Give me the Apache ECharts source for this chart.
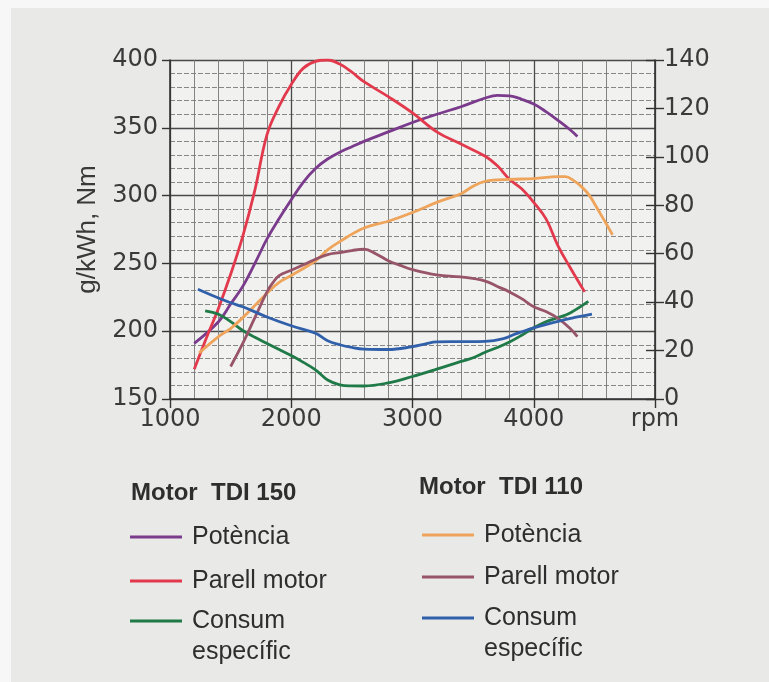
<!DOCTYPE html>
<html><head><meta charset="utf-8">
<script src="https://cdn.jsdelivr.net/npm/echarts@6/dist/echarts.min.js"></script>
<style>
html,body{margin:0;padding:0;background:#f7f7f7;}
#bg{position:absolute;left:11px;top:8px;right:0;bottom:0;background:#e9e9e8;}
#chart{position:absolute;left:0;top:0;width:769px;height:682px;}
</style></head><body>
<div id="bg"></div><div id="chart"></div>
<script>
// ---- data ----
// TDI 150 – Parell motor (Nm, left axis)
const rpm150T = [1200,1300,1400,1500,1600,1700,1800,1900,2000,2100,2200,2300,2400,2500,2600,2800,3000,3200,3400,3600,3700,3800,3900,4000,4100,4200,4300,4420];
const val150T = [172,195,217,242,270,304,345,366,382,394,399,400,397,391,384,373,361,347,338,329,322,312,305,295,283,263,247,229];
// TDI 150 – Potència (kW, right axis)
const rpm150P = [1200,1400,1500,1600,1700,1800,1900,2000,2100,2200,2300,2400,2500,2600,2800,3000,3200,3400,3600,3700,3800,3900,4000,4100,4200,4300,4360];
const val150P = [23,31.9,39.2,46.5,56,66.1,74.5,82.3,89.6,95.2,99.1,101.9,104.2,106.4,110.3,114.2,117.6,120.7,124.3,125.4,125.2,123.8,121.8,118.7,115.1,111.2,108.4];
// TDI 150 – Consum específic (g/kWh, left axis)
const rpm150C = [1290,1400,1500,1600,1700,1800,1900,2000,2100,2200,2300,2400,2500,2600,2800,3000,3200,3400,3500,3600,3700,3800,3900,4000,4100,4200,4300,4450];
const val150C = [215,212.5,207,200.5,195.5,191,186.5,182,177,171.5,164,160.5,159.7,159.6,161.9,166.6,172,177.7,180.4,184.5,188,192,197,202.5,207,210,213.5,222];
// TDI 110 – Potència (kW, right axis)
const rpm110P = [1240,1400,1500,1600,1700,1800,1900,2000,2200,2300,2400,2600,2800,3000,3200,3400,3500,3600,3800,4000,4200,4260,4330,4400,4460,4540,4600,4650];
const val110P = [19,25.8,29.1,33.6,38.6,43.7,48.2,51,57.1,61.6,65,70.6,73.4,77,81.2,84.8,87.9,89.9,90.7,91,91.8,91.8,90.2,87.4,84,77.3,72.2,67.8];
// TDI 110 – Parell motor (Nm, left axis)
const rpm110T = [1500,1600,1700,1800,1850,1900,2000,2100,2200,2300,2400,2500,2600,2700,2800,2900,3000,3200,3400,3600,3700,3800,3900,4000,4100,4200,4300,4360];
const val110T = [174,191,210,229,236,241,245,249,253,256.5,258,259.5,260.5,257,252,248.5,245.4,241.5,240,237,233,229,224,218,214.5,209.5,202,196];
// TDI 110 – Consum específic (g/kWh, left axis)
const rpm110C = [1230,1400,1500,1600,1800,2000,2200,2300,2400,2500,2600,2800,3000,3100,3200,3400,3600,3750,3850,4000,4200,4350,4480];
const val110C = [231,224.5,221,218,210.5,204,198.5,193,190,188,186.8,186.5,188.6,190.5,192.2,192.3,192.5,194.5,198,202.5,207.3,210.3,212.6];

const xTicks = [1000,2000,3000,4000,5000];
const leftTicks = [150,200,250,300,350,400];
const rightTicks = [0,20,40,60,80,100,120,140];

const zip = (a,b) => a.map((x,i)=>[x,b[i]]);

const FONT_AX = 'DejaVu Sans';
const FONT_TX = 'Liberation Sans';
const TXT = '#2e2e2e';

const series = [
  {name:'p150', color:'#7b3b8c', yAxisIndex:1, data: zip(rpm150P,val150P)},
  {name:'t150', color:'#e23a4c', yAxisIndex:0, data: zip(rpm150T,val150T)},
  {name:'c150', color:'#1f7a48', yAxisIndex:0, data: zip(rpm150C,val150C)},
  {name:'p110', color:'#eea45a', yAxisIndex:1, data: zip(rpm110P,val110P)},
  {name:'t110', color:'#985468', yAxisIndex:0, data: zip(rpm110T,val110T)},
  {name:'c110', color:'#3160ab', yAxisIndex:0, data: zip(rpm110C,val110C)}
].map(s => Object.assign({type:'line', smooth:0.4, showSymbol:false, symbol:'none',
    lineStyle:{width:2.8, color:s.color}, itemStyle:{color:s.color}, silent:true, animation:false}, s));

function leg(name, label, left, cy){
  return {
    data:[name], left:left, top: cy-15, padding:0, orient:'vertical',
    icon:'rect', itemWidth:52, itemHeight:3, selectedMode:false,
    formatter: label,
    textStyle:{fontFamily:FONT_TX, fontSize:25, color:TXT, lineHeight:30, padding:[0,0,0,5]}
  };
}
function ttl(text, left, cy, bold){
  return {text:text, left:left, top:cy-14, padding:0,
    textStyle:{fontFamily:FONT_TX, fontSize: bold ? 24 : 25, fontWeight: bold ? 'bold' : 'normal',
      color:TXT, lineHeight:28}};
}

const chart = echarts.init(document.getElementById('chart'), null, {renderer:'canvas'});
chart.setOption({
  animation:false,
  backgroundColor:'transparent',
  title:[
    ttl('Motor  TDI 150',131,493,true),
    ttl('Motor  TDI 110',419,487,true),
    ttl('específic',192,652,false),
    ttl('específic',484,649,false)
  ],
  legend:[
    leg('p150','Potència',130,537),
    leg('t150','Parell motor',130,581),
    leg('c150','Consum',130,621),
    leg('p110','Potència',422,535),
    leg('t110','Parell motor',422,577),
    leg('c110','Consum',422,618)
  ],
  grid:{left:170, right:114, top:60, bottom:283, show:true, backgroundColor:'#f1f1f0', borderWidth:0},
  xAxis:{
    type:'value', min:xTicks[0], max:xTicks[xTicks.length-1], interval:1000,
    axisLine:{show:true, lineStyle:{color:'#333', width:1.6}},
    axisTick:{show:true, length:9, lineStyle:{color:'#333', width:1.4}},
    axisLabel:{fontFamily:FONT_AX, fontSize:24, color:'#3a3a3a', margin:9,
      formatter: v => v === 5000 ? 'rpm' : String(v)},
    splitLine:{show:true, lineStyle:{color:'#4a4a4a', width:1.3}},
    minorTick:{show:false, splitNumber:5},
    minorSplitLine:{show:true, lineStyle:{color:'#777', width:0.9}}
  },
  yAxis:[
    {type:'value', position:'left', min:leftTicks[0], max:leftTicks[leftTicks.length-1], interval:50,
     name:'g/kWh, Nm', nameLocation:'middle', nameRotate:90, nameGap:66,
     nameTextStyle:{fontFamily:FONT_TX, fontSize:26, color:'#3a3a3a'},
     axisLine:{show:true, lineStyle:{color:'#333', width:1.6}},
     axisTick:{show:true, length:8, lineStyle:{color:'#333', width:1.4}},
     axisLabel:{fontFamily:FONT_AX, fontSize:24, color:'#3a3a3a', margin:12},
     splitLine:{show:true, lineStyle:{color:'#4a4a4a', width:1.3}},
     minorTick:{show:false, splitNumber:5},
     minorSplitLine:{show:true, lineStyle:{color:'#7a7a7a', width:0.9, type:[5,2]}}
    },
    {type:'value', position:'right', min:rightTicks[0], max:rightTicks[rightTicks.length-1], interval:20,
     axisLine:{show:true, lineStyle:{color:'#333', width:1.6}},
     axisTick:{show:true, length:9, lineStyle:{color:'#333', width:1.4}},
     axisLabel:{fontFamily:FONT_AX, fontSize:24, color:'#3a3a3a', margin:9},
     splitLine:{show:false}
    },
    {type:'value', position:'right', min:rightTicks[0], max:rightTicks[rightTicks.length-1], interval:20,
     axisLine:{show:false},
     axisTick:{show:true, inside:true, length:9, lineStyle:{color:'#333', width:1.4}},
     axisLabel:{show:false},
     splitLine:{show:false}
    }
  ],
  series: series
});
</script>
</body></html>
